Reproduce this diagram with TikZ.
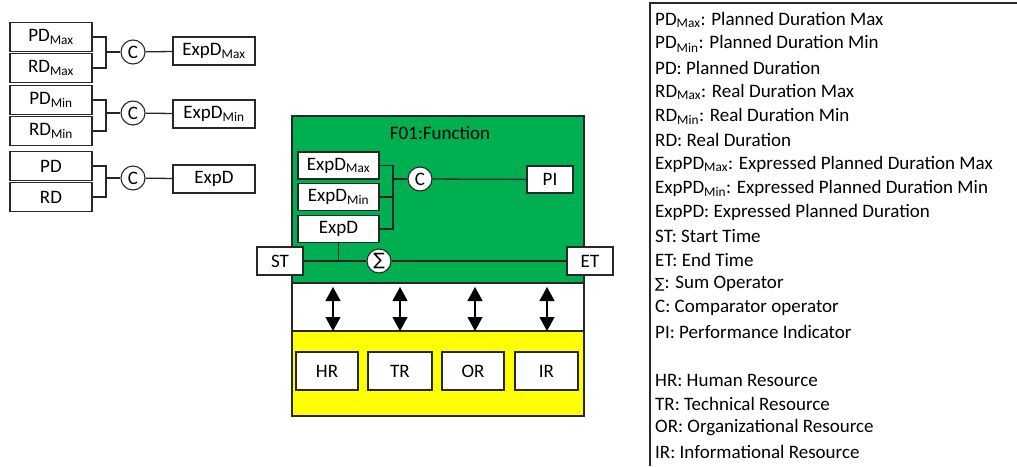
\documentclass[tikz,border=0pt]{standalone}
\usepackage{fontspec}
\setmainfont{Carlito}
\newfontfamily\symf{DejaVu Sans}
\usetikzlibrary{arrows.meta}
\definecolor{fgreen}{RGB}{0,176,80}
\definecolor{fyellow}{RGB}{255,255,0}
\definecolor{lc}{RGB}{40,40,40}
\tikzset{
  base/.style={font=\fontsize{19}{22}\selectfont},
  bx/.style={base, draw=lc, line width=1.1pt, fill=white, inner sep=0pt},
  cmp/.style={base, circle, draw=lc, line width=1.1pt, fill=white, minimum size=24pt, inner sep=0pt},
  wire/.style={draw=black!85, line width=1.3pt},
  dbl/.style={line width=1.2pt, {Triangle[length=14pt,width=15pt]}-{Triangle[length=14pt,width=15pt]}},
  lg/.style={base, anchor=west, inner sep=0pt},
}
\begin{document}
\begin{tikzpicture}[x=1pt,y=-1pt]
\useasboundingbox (0,0) rectangle (1017,466);
% left groups
\node[bx, minimum width=82pt, minimum height=29pt] (pdmax) at (51,37) {PD\textsubscript{Max}};
\node[bx, minimum width=82pt, minimum height=29pt] (rdmax) at (51,68) {RD\textsubscript{Max}};
\node[bx, minimum width=82pt, minimum height=29pt] (pdmin) at (51,100) {PD\textsubscript{Min}};
\node[bx, minimum width=82pt, minimum height=29pt] (rdmin) at (51,131) {RD\textsubscript{Min}};
\node[bx, minimum width=82pt, minimum height=29pt] (pd) at (51,166) {PD};
\node[bx, minimum width=82pt, minimum height=29pt] (rd) at (51,197) {RD};
\node[cmp] (c1) at (133,52) {C};
\node[cmp] (c2) at (133,113) {C};
\node[cmp] (c3) at (133,178) {C};
\node[bx, minimum width=82pt, minimum height=28pt] (oexpdmax) at (214,51) {ExpD\textsubscript{Max}};
\node[bx, minimum width=82pt, minimum height=28pt] (oexpdmin) at (214,114) {ExpD\textsubscript{Min}};
\node[bx, minimum width=82pt, minimum height=28pt] (oexpd) at (214,179) {ExpD};
\coordinate (j1) at (106,52);
\coordinate (j2) at (106,113);
\coordinate (j3) at (106,178);
\draw[wire] (pdmax.east) -| (j1) |- (rdmax.east);
\draw[wire] (j1) -- (c1);
\draw[wire] (c1) -- (oexpdmax);
\draw[wire] (pdmin.east) -| (j2) |- (rdmin.east);
\draw[wire] (j2) -- (c2);
\draw[wire] (c2) -- (oexpdmin);
\draw[wire] (pd.east) -| (j3) |- (rd.east);
\draw[wire] (j3) -- (c3);
\draw[wire] (c3) -- (oexpd);
% function block
\node[draw=lc, line width=1.1pt, fill=fgreen, minimum width=292pt, minimum height=167pt, inner sep=0pt] (func) at (438,199.5) {};
\node[draw=lc, line width=1.1pt, fill=white, minimum width=292pt, minimum height=48pt, inner sep=0pt] (mid) at (438,307) {};
\node[draw=lc, line width=1.1pt, fill=fyellow, minimum width=292pt, minimum height=85pt, inner sep=0pt] (res) at (438,373.5) {};
\node[base] (ftitle) at (440,133) {F01:Function};
\node[bx, minimum width=81pt, minimum height=27pt] (iexpdmax) at (338.5,165.5) {ExpD\textsubscript{Max}};
\node[bx, minimum width=81pt, minimum height=27pt] (iexpdmin) at (338.5,197) {ExpD\textsubscript{Min}};
\node[bx, minimum width=81pt, minimum height=27pt] (iexpd) at (338.5,229) {ExpD};
\node[cmp] (ci) at (420,179) {C};
\node[bx, minimum width=46pt, minimum height=27pt] (pi) at (550,179.5) {PI};
\coordinate (j4) at (393,179);
\draw[wire] (iexpdmax.east) -| (j4);
\draw[wire] (iexpdmin.east) -| (j4);
\draw[wire] (iexpd.east) -| (j4);
\draw[wire] (j4) -- (ci);
\draw[wire] (ci) -- (pi);
\node[bx, minimum width=46pt, minimum height=28pt] (st) at (280,261) {ST};
\node[bx, minimum width=46pt, minimum height=28pt] (et) at (590,261) {ET};
\node[cmp] (sum) at (379,261) {{\symf\fontsize{17}{19}\selectfont ∑}};
\draw[wire] (st) -- (sum);
\draw[wire] (sum) -- (et);
\draw[wire] (iexpd.south) -- (iexpd.south |- sum);
% arrows
\foreach \i/\x in {1/333,2/400,3/475,4/547}{
  \coordinate (a\i t) at (\x,287);
  \coordinate (a\i b) at (\x,331);
  \draw[dbl] (a\i t) -- (a\i b);
}
% resources
\node[bx, minimum width=62pt, minimum height=38pt] (hr) at (327,371) {HR};
\node[bx, minimum width=64pt, minimum height=38pt] (tr) at (400,371) {TR};
\node[bx, minimum width=62pt, minimum height=38pt] (or) at (473,371) {OR};
\node[bx, minimum width=63pt, minimum height=38pt] (ir) at (546.5,371) {IR};
% legend
\draw[lc, line width=1.1pt] (1017,3) -- (650,3) -- (650,466);
\node[lg] (l1) at (655,20) {PD\textsubscript{Max}: Planned Duration Max};
\node[lg] (l2) at (655,44) {PD\textsubscript{Min}: Planned Duration Min};
\node[lg] (l3) at (655,68) {PD: Planned Duration};
\node[lg] (l4) at (655,92) {RD\textsubscript{Max}: Real Duration Max};
\node[lg] (l5) at (655,116) {RD\textsubscript{Min}: Real Duration Min};
\node[lg] (l6) at (655,140) {RD: Real Duration};
\node[lg] (l7) at (655,164) {ExpPD\textsubscript{Max}: Expressed Planned Duration Max};
\node[lg] (l8) at (655,188) {ExpPD\textsubscript{Min}: Expressed Planned Duration Min};
\node[lg] (l9) at (655,212) {ExpPD: Expressed Planned Duration};
\node[lg] (l10) at (655,236) {ST: Start Time};
\node[lg] (l11) at (655,260) {ET: End Time};
\node[lg] (l12) at (655,284) {{\symf\fontsize{14}{16}\selectfont ∑}: Sum Operator};
\node[lg] (l13) at (655,308) {C: Comparator operator};
\node[lg] (l14) at (655,332) {PI: Performance Indicator};
\node[lg] (l15) at (655,380) {HR: Human Resource};
\node[lg] (l16) at (655,404) {TR: Technical Resource};
\node[lg] (l17) at (655,428) {OR: Organizational Resource};
\node[lg] (l18) at (655,452) {IR: Informational Resource};
\end{tikzpicture}
\end{document}
